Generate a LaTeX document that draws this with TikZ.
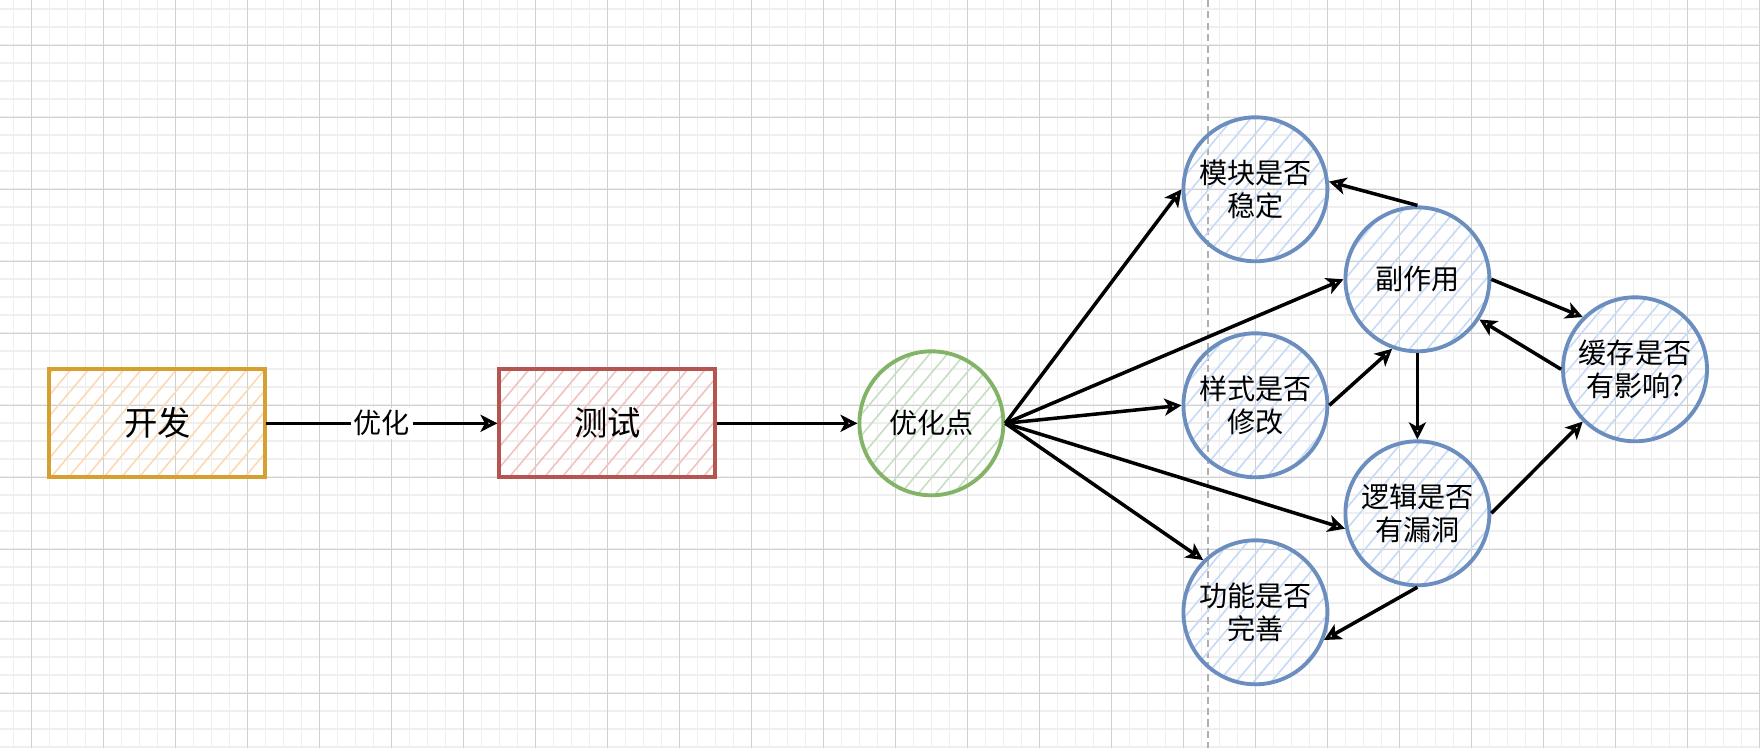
\documentclass[tikz,border=0pt]{standalone}
\usepackage{fontspec}
\setmainfont{Noto Sans CJK SC}
\usepackage{tikz}
\usetikzlibrary{arrows.meta,patterns.meta}
\definecolor{devline}{HTML}{D6A030}
\definecolor{devfill}{HTML}{FCD9B4}
\definecolor{testline}{HTML}{B5554F}
\definecolor{testfill}{HTML}{F1C2C0}
\definecolor{optline}{HTML}{82B366}
\definecolor{optfill}{HTML}{C6DFC4}
\definecolor{qline}{HTML}{6C8EBF}
\definecolor{qfill}{HTML}{C6DAF7}
\definecolor{gridlight}{HTML}{EFEFEF}
\definecolor{griddark}{HTML}{D0D0D0}
\definecolor{pagegray}{HTML}{B0B0B0}

\begin{document}
\begin{tikzpicture}[
  x=0.02cm, y=-0.02cm,
  minorline/.style={draw=gridlight, line width=1pt},
  majorline/.style={draw=griddark, line width=0.6pt},
  pageline/.style={draw=pagegray, line width=1.4pt, dash pattern=on 4pt off 2.5pt},
  hatch/.style={pattern={Lines[angle=50,distance=0.27cm,line width=0.9pt]}, pattern color=#1},
  box/.style={rectangle, minimum width=4.32cm, minimum height=2.16cm, line width=2.2pt, font=\fontsize{19}{23}\selectfont},
  bubble/.style={circle, minimum size=2.88cm, inner sep=0pt, line width=2.2pt, align=center, font=\fontsize{16}{19}\selectfont},
  flow/.style={-{Stealth[open,length=3.4mm,width=3.4mm,inset=0.9mm]}, line width=2pt},
  elabel/.style={fill=white, inner sep=1.5pt, font=\fontsize{16}{19}\selectfont}
]
\useasboundingbox (0,0) rectangle (1760,748);
\fill[white] (0,0) rectangle (1760,748);
\foreach \i in {0,...,97} \draw[minorline] ({13.4+18*\i},0) -- ({13.4+18*\i},748);
\foreach \j in {0,...,41} \draw[minorline] (0,{9.3+18*\j}) -- (1760,{9.3+18*\j});
\foreach \i in {0,...,24} \draw[majorline] ({31.4+72*\i},0) -- ({31.4+72*\i},748);
\foreach \j in {0,...,9} \draw[majorline] (0,{45.3+72*\j}) -- (1760,{45.3+72*\j});
\draw[pageline] (1208,0) -- (1208,748);

\node[box, draw=devline, hatch=devfill] (kaifa) at (157.4,423.3) {开发};
\node[box, draw=testline, hatch=testfill] (ceshi) at (607.4,423.3) {测试};
\node[bubble, draw=optline, hatch=optfill] (youhua) at (931.4,423.3) {优化点};
\node[bubble, draw=qline, hatch=qfill] (mokuai) at (1255.4,189.3) {模块是否\\稳定};
\node[bubble, draw=qline, hatch=qfill] (fuzuoyong) at (1417.4,279.3) {副作用};
\node[bubble, draw=qline, hatch=qfill] (yangshi) at (1255.4,405.3) {样式是否\\修改};
\node[bubble, draw=qline, hatch=qfill] (huancun) at (1635,369.3) {缓存是否\\有影响?};
\node[bubble, draw=qline, hatch=qfill] (luoji) at (1417.4,513.3) {逻辑是否\\有漏洞};
\node[bubble, draw=qline, hatch=qfill] (gongneng) at (1255.4,612.3) {功能是否\\完善};

\draw[flow] (kaifa) -- node[elabel] {优化} (ceshi);
\draw[flow] (ceshi) -- (youhua);
\draw[flow] (youhua.east) -- (mokuai.west);
\draw[flow] (youhua.east) -- (fuzuoyong.west);
\draw[flow] (youhua.east) -- (yangshi.west);
\draw[flow] (youhua.east) -- (luoji.192);
\draw[flow] (youhua.east) -- (gongneng.135);
\draw[flow] (fuzuoyong.north) -- (mokuai.6);
\draw[flow] (fuzuoyong.east) -- (huancun.135);
\draw[flow] (huancun.west) -- (fuzuoyong.327);
\draw[flow] (fuzuoyong.south) -- (luoji.north);
\draw[flow] (yangshi.east) -- (fuzuoyong.250);
\draw[flow] (luoji.east) -- (huancun.225);
\draw[flow] (luoji.south) -- (gongneng.338);
\end{tikzpicture}
\end{document}
